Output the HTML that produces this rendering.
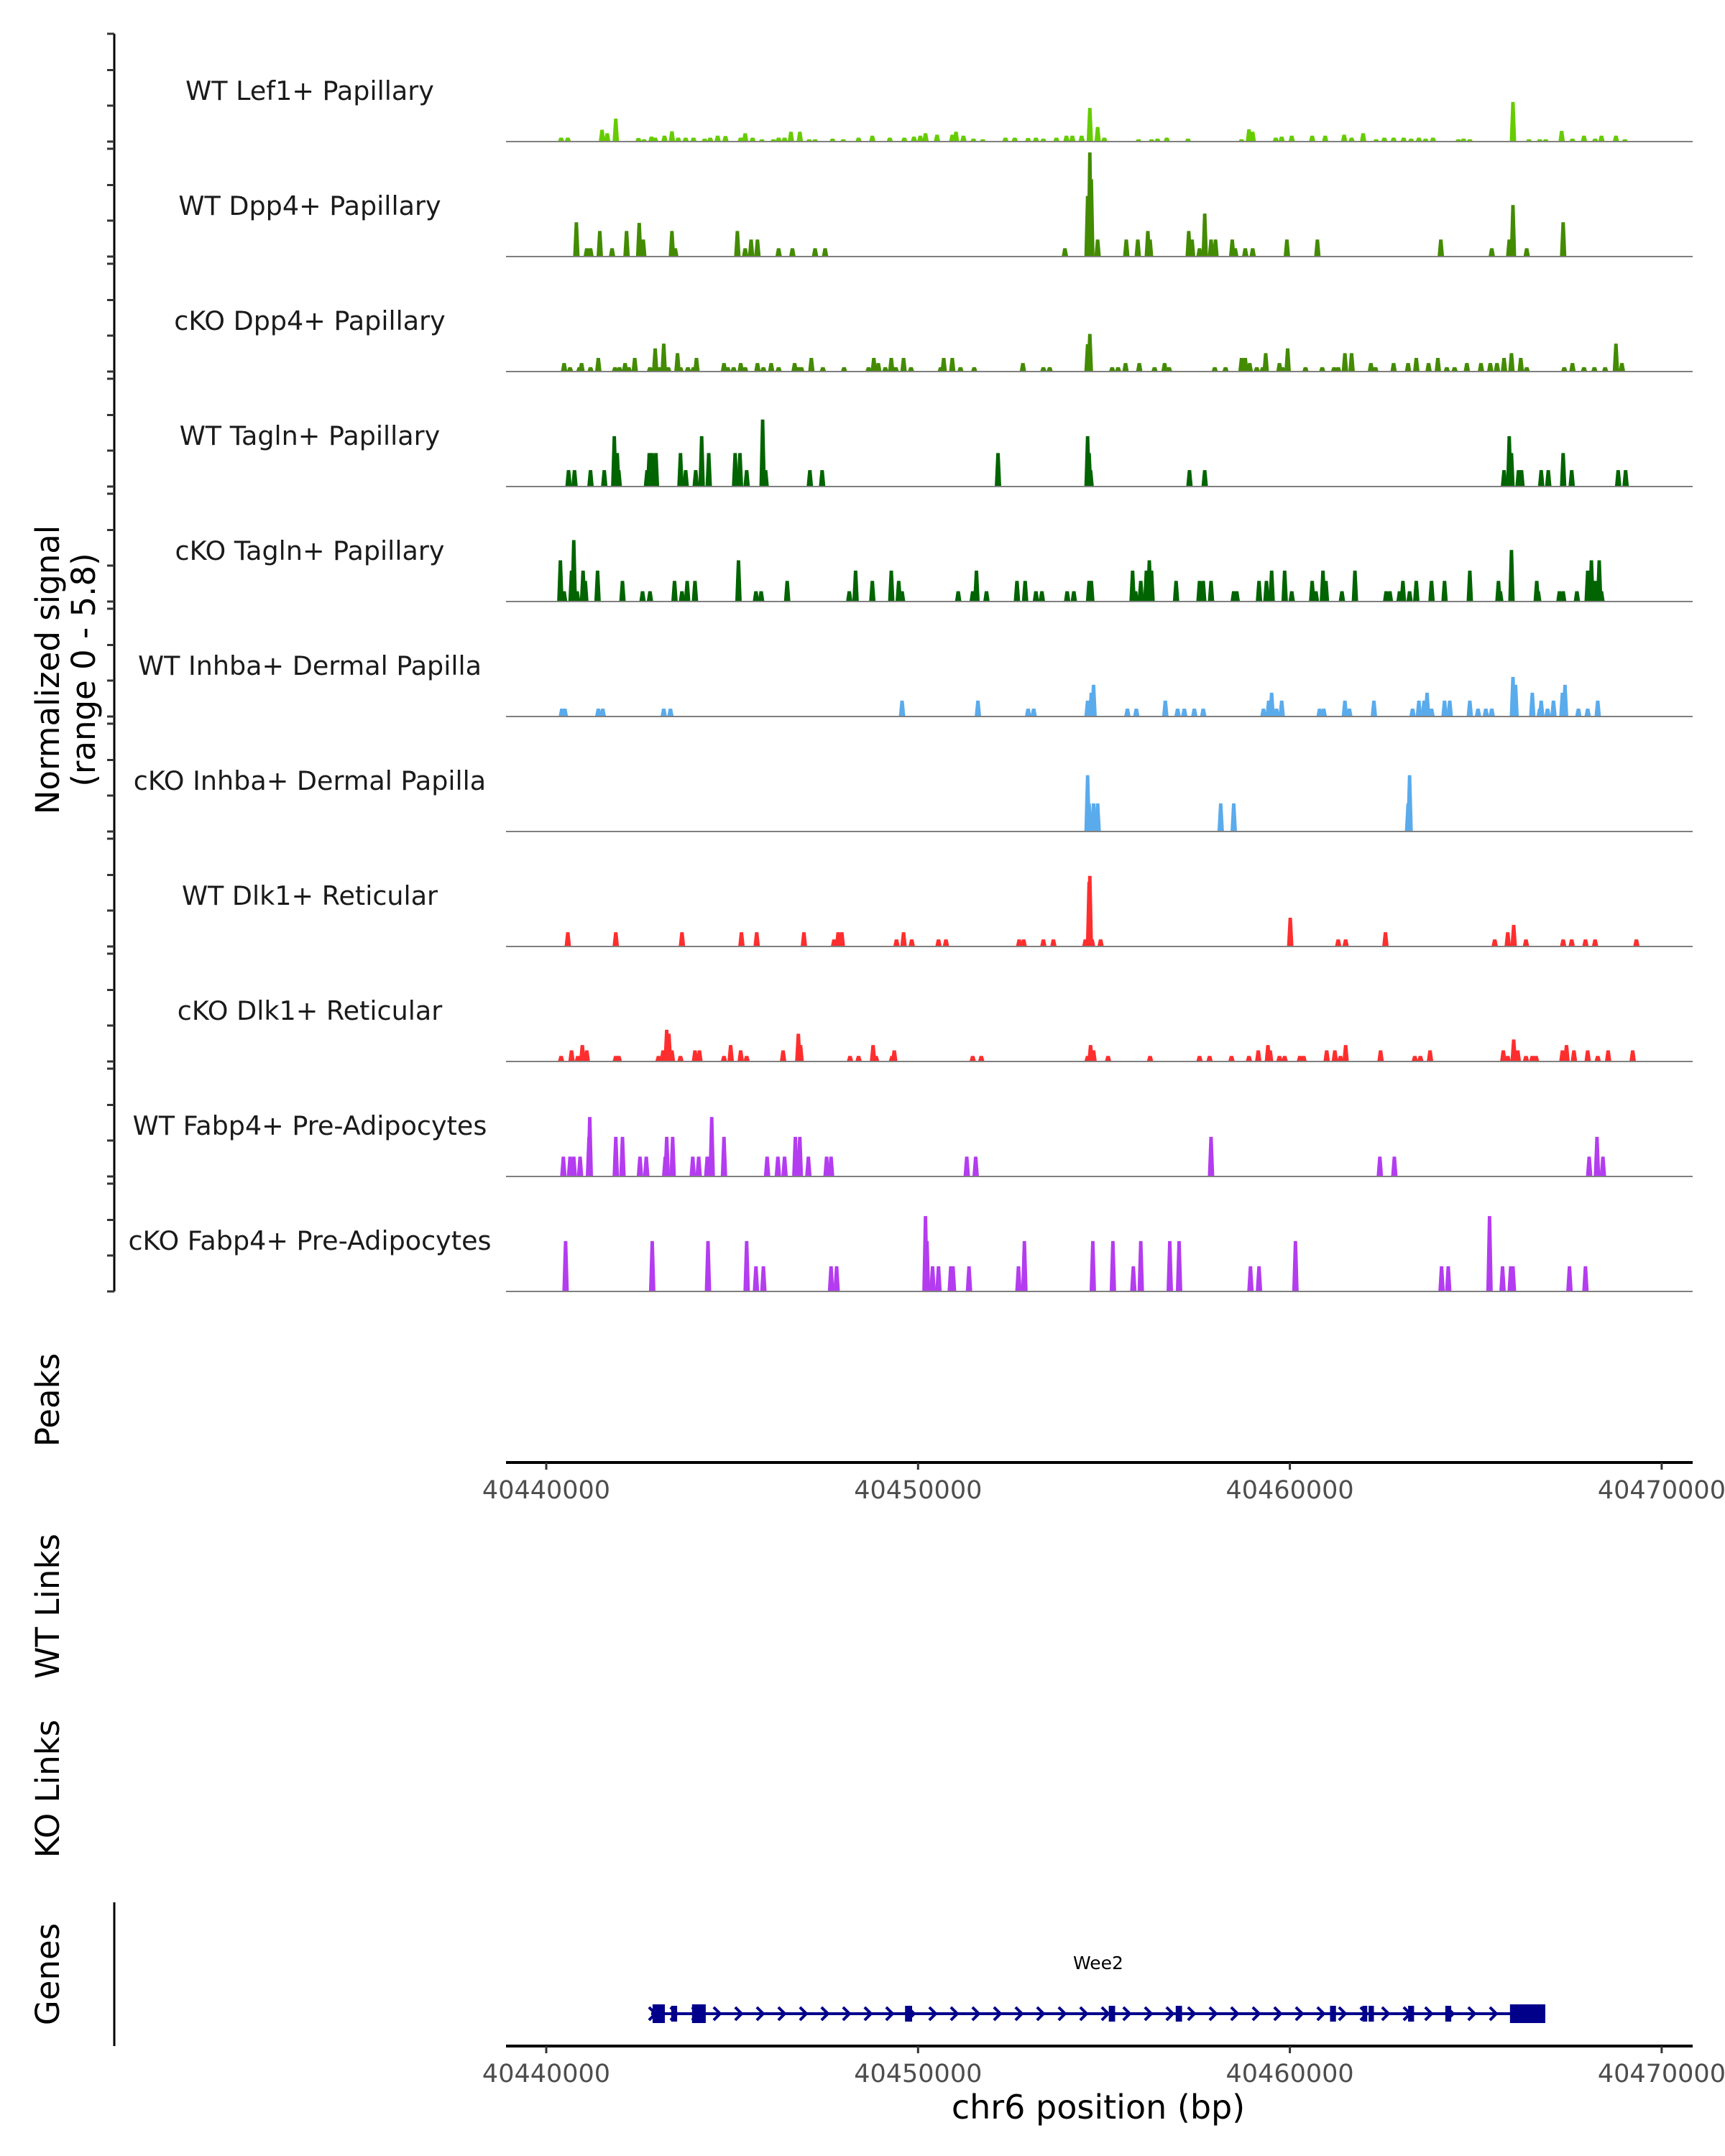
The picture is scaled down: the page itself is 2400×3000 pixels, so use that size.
<!DOCTYPE html>
<html><head><meta charset="utf-8"><style>
html,body{margin:0;padding:0;background:#fff;}
svg{display:block;font-family:"DejaVu Sans","Liberation Sans",sans-serif;}
</style></head><body>
<svg id="chart" xmlns="http://www.w3.org/2000/svg" width="2400" height="3000" viewBox="0 0 2400 3000">
<rect x="0" y="0" width="2400" height="3000" fill="#fff"/>
<g id="tracks"></g>
<g id="yaxis"></g>
<text transform="translate(82,932) rotate(-90)" text-anchor="middle" font-size="45" fill="#000">Normalized signal</text>
<text transform="translate(132,932) rotate(-90)" text-anchor="middle" font-size="45" fill="#000">(range 0 - 5.8)</text>
<text transform="translate(82,1948) rotate(-90)" text-anchor="middle" font-size="45" fill="#000">Peaks</text>
<text transform="translate(82,2235) rotate(-90)" text-anchor="middle" font-size="45" fill="#000">WT Links</text>
<text transform="translate(82,2489) rotate(-90)" text-anchor="middle" font-size="45" fill="#000">KO Links</text>
<text transform="translate(82,2747) rotate(-90)" text-anchor="middle" font-size="45" fill="#000">Genes</text>
<line x1="159" y1="2647" x2="159" y2="2847" stroke="#000" stroke-width="3"/>
<g id="xaxes"></g>
<g id="genes"></g>
<text x="1528" y="2948" text-anchor="middle" font-size="46" fill="#000">chr6 position (bp)</text>
</svg>
<script>
// ---- data ----
const trackNames = ["WT Lef1+ Papillary","WT Dpp4+ Papillary","cKO Dpp4+ Papillary","WT Tagln+ Papillary","cKO Tagln+ Papillary","WT Inhba+ Dermal Papilla","cKO Inhba+ Dermal Papilla","WT Dlk1+ Reticular","cKO Dlk1+ Reticular","WT Fabp4+ Pre-Adipocytes","cKO Fabp4+ Pre-Adipocytes"];
const trackColors = ["#66cc00","#438b00","#438b00","#006400","#006400","#5aabec","#5aabec","#ff2e2e","#ff2e2e","#b43cf0","#b43cf0"];
// peak positions in kb from 40,440,000 and signal values
const lef1Pos = [0.40,0.58,1.50,1.64,1.87,2.48,2.63,2.83,2.93,3.18,3.38,3.55,3.75,3.96,4.26,4.41,4.61,4.82,5.23,5.35,5.55,5.80,6.11,6.25,6.41,6.58,6.82,7.07,7.23,7.70,7.99,8.40,8.77,9.24,9.63,9.89,10.06,10.20,10.51,10.92,11.02,11.22,11.49,11.74,12.35,12.60,12.96,13.17,13.37,13.72,13.99,14.15,14.40,14.62,14.83,15.01,15.93,16.28,16.44,16.69,17.26,18.70,18.90,19.00,19.62,19.78,20.05,20.60,20.95,21.46,21.66,21.97,22.32,22.54,22.79,23.06,23.26,23.47,23.65,23.85,24.53,24.67,24.84,26.00,26.43,26.72,26.88,27.31,27.60,27.91,28.21,28.38,28.77,29.01];
const lef1Val = [0.2,0.2,0.6,0.42,1.16,0.18,0.12,0.25,0.2,0.3,0.52,0.2,0.2,0.2,0.15,0.2,0.3,0.28,0.2,0.42,0.2,0.12,0.12,0.2,0.2,0.5,0.5,0.12,0.12,0.15,0.12,0.2,0.3,0.2,0.2,0.25,0.3,0.42,0.35,0.35,0.5,0.3,0.15,0.12,0.2,0.2,0.18,0.2,0.15,0.2,0.3,0.3,0.3,1.7,0.74,0.2,0.12,0.12,0.15,0.2,0.15,0.12,0.62,0.5,0.2,0.25,0.3,0.3,0.3,0.35,0.2,0.42,0.12,0.2,0.2,0.2,0.15,0.2,0.15,0.2,0.12,0.15,0.12,2.0,0.12,0.12,0.12,0.54,0.15,0.3,0.15,0.3,0.3,0.12];
const dpp4WtPos = [0.81,1.09,1.19,1.44,1.77,2.16,2.50,2.61,3.38,3.47,5.14,5.35,5.51,5.68,6.25,6.62,7.23,7.50,13.95,14.56,14.62,14.66,14.83,15.60,15.91,16.18,16.24,17.28,17.37,17.57,17.71,17.88,18.00,18.45,18.53,18.80,19.00,19.92,20.74,24.06,25.43,25.90,26.00,26.37,27.35];
const dpp4WtVal = [1.73,0.42,0.42,1.29,0.42,1.29,1.70,0.86,1.29,0.42,1.29,0.42,0.86,0.86,0.42,0.42,0.42,0.42,0.42,3.06,5.25,3.9,0.86,0.86,0.86,1.29,0.86,1.29,0.86,0.42,2.17,0.86,0.86,0.86,0.42,0.42,0.42,0.86,0.86,0.86,0.42,0.86,2.6,0.42,1.73];
const dpp4KoPos = [0.48,0.64,0.89,0.95,1.19,1.40,1.85,1.97,2.12,2.22,2.38,2.79,2.93,3.04,3.16,3.28,3.53,3.61,3.81,3.96,4.04,4.78,4.88,5.04,5.23,5.35,5.68,5.84,6.05,6.25,6.68,6.78,6.86,7.13,7.44,8.01,8.67,8.81,8.93,9.12,9.28,9.40,9.61,9.81,10.61,10.69,10.92,11.14,11.51,12.82,13.37,13.54,14.56,14.62,15.22,15.38,15.58,15.95,16.36,16.63,16.75,17.98,18.27,18.70,18.80,18.92,19.11,19.27,19.35,19.72,19.80,19.94,20.42,20.87,21.19,21.30,21.48,21.66,22.18,22.30,22.79,23.18,23.40,23.73,23.98,24.22,24.43,24.76,25.14,25.39,25.57,25.76,25.96,26.21,26.37,27.38,27.60,27.91,28.19,28.48,28.77,28.93];
const dpp4KoVal = [0.43,0.22,0.22,0.43,0.22,0.69,0.22,0.22,0.43,0.22,0.69,0.22,1.17,0.22,1.41,0.22,0.93,0.22,0.22,0.22,0.69,0.43,0.22,0.22,0.43,0.22,0.43,0.22,0.43,0.22,0.43,0.22,0.22,0.69,0.22,0.22,0.22,0.69,0.43,0.22,0.69,0.22,0.69,0.22,0.22,0.69,0.69,0.22,0.22,0.43,0.22,0.22,1.38,1.9,0.22,0.22,0.43,0.43,0.22,0.43,0.22,0.22,0.22,0.69,0.69,0.43,0.22,0.22,0.93,0.43,0.22,1.17,0.22,0.22,0.22,0.22,0.93,0.93,0.43,0.22,0.43,0.43,0.69,0.43,0.69,0.22,0.22,0.43,0.43,0.43,0.43,0.69,0.93,0.69,0.22,0.22,0.43,0.22,0.22,0.22,1.41,0.43];
const taglnWtPos = [0.60,0.76,1.19,1.56,1.83,1.91,1.95,2.71,2.77,2.85,2.95,3.61,3.75,4.02,4.18,4.37,5.08,5.21,5.39,5.82,5.90,7.09,7.42,12.15,14.56,14.60,14.64,17.30,17.71,25.76,25.90,25.96,26.15,26.23,26.76,26.95,27.35,27.58,28.83,29.03];
const taglnWtVal = [0.83,0.83,0.83,0.83,2.54,1.69,0.83,0.83,1.69,1.69,1.69,1.69,0.83,0.83,2.54,1.69,1.69,1.69,0.83,3.38,0.83,0.83,0.83,1.69,2.54,1.69,0.83,0.83,0.83,0.83,2.54,1.69,0.83,0.83,0.83,0.83,1.69,0.83,0.83,0.83];
const taglnKoPos = [0.38,0.48,0.68,0.74,0.83,0.99,1.05,1.38,2.05,2.59,2.79,3.45,3.65,3.79,4.00,5.17,5.64,5.78,6.48,8.15,8.32,8.77,9.28,9.48,9.57,11.08,11.47,11.57,11.84,12.66,12.88,13.17,13.33,14.01,14.19,14.60,14.66,15.77,15.85,15.99,16.14,16.22,16.28,16.94,17.57,17.67,17.88,18.49,18.57,19.17,19.37,19.51,19.86,20.05,20.60,20.70,20.89,20.97,21.40,21.75,22.59,22.69,22.95,23.04,23.22,23.40,23.81,24.16,24.84,25.61,25.66,25.96,26.64,26.68,27.25,27.35,27.72,28.01,28.11,28.21,28.32,28.38];
const taglnKoVal = [2.08,0.52,1.56,3.1,0.52,1.56,1.04,1.56,1.04,0.52,0.52,1.04,0.52,1.04,1.04,2.08,0.52,0.52,1.04,0.52,1.56,1.04,1.56,1.04,0.52,0.52,0.52,1.56,0.52,1.04,1.04,0.52,0.52,0.52,0.52,1.04,1.04,1.56,0.52,1.04,1.56,2.08,1.56,1.04,1.04,1.04,1.04,0.52,0.52,1.04,1.04,1.56,1.56,0.52,1.04,0.52,1.56,1.04,0.52,1.56,0.52,0.52,0.52,1.04,0.52,1.04,1.04,1.04,1.56,1.04,0.52,2.6,1.04,0.52,0.52,0.52,0.52,1.56,2.08,1.04,2.08,0.52];
const inhbaWtPos = [0.42,0.50,1.40,1.52,3.16,3.34,9.57,11.61,12.96,13.11,14.56,14.66,14.72,15.63,15.87,16.65,16.98,17.16,17.43,17.67,19.29,19.43,19.51,19.64,19.78,20.80,20.91,21.48,21.60,22.26,23.30,23.47,23.61,23.69,23.81,24.16,24.30,24.84,25.06,25.27,25.43,26.00,26.07,26.52,26.72,26.76,26.93,27.09,27.33,27.40,27.76,28.01,28.28];
const inhbaWtVal = [0.4,0.4,0.4,0.4,0.4,0.4,0.8,0.8,0.4,0.4,0.8,1.2,1.6,0.4,0.4,0.8,0.4,0.4,0.4,0.4,0.4,0.8,1.2,0.4,0.8,0.4,0.4,0.8,0.4,0.8,0.4,0.8,0.8,1.2,0.4,0.8,0.8,0.8,0.4,0.4,0.4,2.0,1.6,1.2,0.4,0.8,0.4,0.8,1.2,1.6,0.4,0.4,0.8];
const inhbaKoPos = [14.56,14.60,14.72,14.83,18.14,18.49,23.18,23.22];
const inhbaKoVal = [2.84,1.42,1.42,1.42,1.42,1.42,1.42,2.84];
const dlk1WtPos = [0.58,1.87,3.65,5.25,5.66,6.93,7.74,7.85,7.95,9.42,9.61,9.83,10.55,10.75,12.72,12.84,13.37,13.64,14.50,14.60,14.62,14.68,14.91,20.01,21.30,21.50,22.57,25.51,25.86,26.02,26.35,27.35,27.58,27.95,28.21,29.32];
const dlk1WtVal = [0.72,0.72,0.72,0.72,0.72,0.72,0.36,0.72,0.72,0.36,0.72,0.36,0.36,0.36,0.36,0.36,0.36,0.36,0.36,3.26,3.56,0.36,0.36,1.45,0.36,0.36,0.72,0.36,0.72,1.09,0.36,0.36,0.36,0.36,0.36,0.36];
const dlk1KoPos = [0.40,0.68,0.85,0.97,1.09,1.87,1.95,3.02,3.14,3.24,3.30,3.38,3.61,4.00,4.12,4.78,4.96,5.23,5.39,6.37,6.78,6.84,8.17,8.40,8.79,8.87,9.30,9.36,11.47,11.70,14.56,14.64,14.72,15.11,16.24,17.57,17.84,18.43,18.90,19.15,19.41,19.47,19.72,19.86,20.27,20.37,20.99,21.21,21.36,21.50,22.44,23.36,23.51,23.77,25.74,25.86,26.02,26.13,26.35,26.52,26.62,27.33,27.44,27.64,28.01,28.28,28.56,29.22];
const dlk1KoVal = [0.28,0.56,0.28,0.83,0.56,0.28,0.28,0.28,0.56,1.6,1.4,0.56,0.28,0.56,0.56,0.28,0.83,0.56,0.28,0.56,1.4,0.83,0.28,0.28,0.83,0.28,0.28,0.56,0.28,0.28,0.28,0.83,0.56,0.28,0.28,0.28,0.28,0.28,0.28,0.56,0.83,0.56,0.28,0.28,0.28,0.28,0.56,0.56,0.28,0.83,0.56,0.28,0.28,0.56,0.56,0.28,1.11,0.56,0.28,0.28,0.28,0.56,0.83,0.56,0.56,0.28,0.56,0.56];
const fabp4WtPos = [0.46,0.64,0.74,0.91,1.15,1.17,1.87,2.05,2.52,2.69,3.20,3.24,3.40,3.94,4.10,4.33,4.45,4.78,5.94,6.23,6.41,6.70,6.82,7.05,7.54,7.66,11.31,11.55,17.88,22.42,22.81,28.05,28.26,28.42];
const fabp4WtVal = [1,1,1,1,2,3,2,2,1,1,1,2,2,1,1,1,3,2,1,1,1,2,2,1,1,1,1,1,2,1,1,1,2,1];
const fabp4KoPos = [0.52,2.85,4.35,5.39,5.64,5.84,7.66,7.81,10.20,10.24,10.39,10.55,10.88,10.94,11.37,12.70,12.86,14.70,15.24,15.79,15.99,16.77,17.02,18.94,19.17,20.15,24.08,24.26,25.37,25.72,25.94,26.00,27.52,27.95];
const fabp4KoVal = [2.54,2.54,2.54,2.54,1.27,1.27,1.27,1.27,3.8,2.54,1.27,1.27,1.27,1.27,1.27,1.27,2.54,2.54,2.54,1.27,2.54,2.54,2.54,1.27,1.27,2.54,1.27,1.27,3.8,1.27,1.27,1.27,1.27,1.27];
const trackPositions = [lef1Pos,dpp4WtPos,dpp4KoPos,taglnWtPos,taglnKoPos,inhbaWtPos,inhbaKoPos,dlk1WtPos,dlk1KoPos,fabp4WtPos,fabp4KoPos];
const trackValues = [lef1Val,dpp4WtVal,dpp4KoVal,taglnWtVal,taglnKoVal,inhbaWtVal,inhbaKoVal,dlk1WtVal,dlk1KoVal,fabp4WtVal,fabp4KoVal];
const xTicks = [40440000,40450000,40460000,40470000];
const geneName = "Wee2";
const geneStartKb = 2.82, geneEndKb = 26.87;
const exonStarts = [2.86,3.36,3.92,9.65,15.13,16.93,21.08,21.95,22.12,23.18,24.18,25.92];
const exonEnds   = [3.19,3.52,4.29,9.84,15.30,17.10,21.24,22.08,22.26,23.34,24.34,26.87];
const exonBig    = [1,0,1,0,0,0,0,0,0,0,0,1];

// ---- scales ----
const NS="http://www.w3.org/2000/svg";
const X0=40440000, PX_PER_BP=517.3/10000, XPIX0=760;
function xScale(bp){return XPIX0+(bp-X0)*PX_PER_BP;}
function xKb(kb){return xScale(X0+kb*1000);}
const TRACK_TOP=47, TRACK_STEP=160, PX_PER_UNIT=160/5.8;
function baseY(i){return TRACK_TOP+150+i*TRACK_STEP;}
function yScale(i,v){return baseY(i)-v*PX_PER_UNIT;}
function mk(tag,attrs,parent){const e=document.createElementNS(NS,tag);for(const k in attrs)e.setAttribute(k,attrs[k]);parent.appendChild(e);return e;}

// ---- tracks ----
const tracksG=document.getElementById('tracks');
trackNames.forEach((name,i)=>{
  const g=mk('g',{},tracksG);
  
  
  const b=baseY(i);
  const pos=trackPositions[i], val=trackValues[i];
  for(let k=0;k<pos.length;k++){
    const x=xKb(pos[k]), t=yScale(i,val[k]);
    const p=mk('polygon',{points:`${x-4.5},${b} ${x-2.4},${t} ${x+2.4},${t} ${x+4.5},${b}`,fill:trackColors[i]},g);
    
    
  }
  const ln=mk('line',{x1:704,y1:b,x2:2355,y2:b,stroke:'#7f7f7f','stroke-width':2},g);
  
  
  const tx=mk('text',{x:431,y:b-58,'text-anchor':'middle','font-size':36.5,fill:'#1a1a1a'},g);
  tx.textContent=name;
  
  
});

// ---- y axis ----
const ya=document.getElementById('yaxis');
mk('line',{x1:159,y1:TRACK_TOP,x2:159,y2:baseY(trackNames.length-1),stroke:'#000','stroke-width':3},ya);
trackNames.forEach((n,i)=>{
  const top=TRACK_TOP+i*TRACK_STEP;
  [0,50.5,100,150].forEach(o=>{
    const t=mk('line',{x1:149,y1:top+o,x2:159,y2:top+o,stroke:'#333','stroke-width':3},ya);
    
    
  });
});

// ---- x axes ----
const xa=document.getElementById('xaxes');
[2035,2847].forEach(ay=>{
  mk('line',{x1:704,y1:ay,x2:2355,y2:ay,stroke:'#000','stroke-width':4},xa);
  xTicks.forEach(v=>{
    const x=xScale(v);
    mk('line',{x1:x,y1:ay,x2:x,y2:ay+10,stroke:'#333','stroke-width':3},xa);
    const t=mk('text',{x:x,y:ay+50,'text-anchor':'middle','font-size':35,fill:'#4d4d4d'},xa);
    t.textContent=String(v);
    
    
  });
});

// ---- gene ----
const gg=document.getElementById('genes');
const gy=2802, C='#00008b';
const gl=mk('text',{x:(xKb(geneStartKb)+xKb(geneEndKb))/2,y:2740,'text-anchor':'middle','font-size':25,fill:'#000'},gg);
gl.textContent=geneName;


mk('line',{x1:xKb(geneStartKb),y1:gy,x2:xKb(geneEndKb),y2:gy,stroke:C,'stroke-width':4},gg);
for(let x=xKb(geneStartKb)+2;x<xKb(geneEndKb)-30;x+=30){
  mk('polyline',{points:`${x-5},${gy-9} ${x+4},${gy} ${x-5},${gy+9}`,fill:'none',stroke:C,'stroke-width':4},gg);
}
exonStarts.forEach((s,k)=>{
  const x1=xKb(s), x2=xKb(exonEnds[k]), h=exonBig[k]?13:11;
  const r=mk('rect',{x:x1,y:gy-h,width:Math.max(x2-x1,5),height:2*h,fill:C},gg);
  
  
});
</script>
</body></html>
